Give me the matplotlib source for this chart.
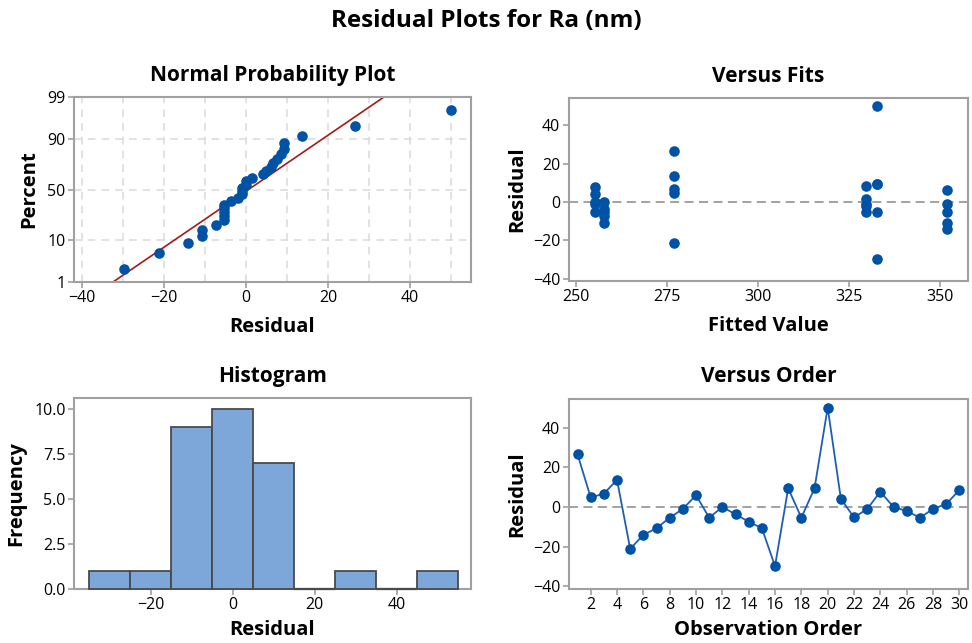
import numpy as np
import matplotlib
matplotlib.use("Agg")
import matplotlib.pyplot as plt
from statistics import NormalDist

#--- DATA ---#

# Observation order
order = list(range(1, 31))
residuals = [26.6, 4.8, 6.7, 13.7, -21.1,
             -14.1, -10.7, -5.4, -1.0, 6.0,
             -5.4, 0.0, -3.7, -7.4, -10.7,
             -29.8, 9.4, -5.4, 9.4, 50.1,
             4.2, -5.3, -1.0, 7.7, 0.0,
             -2.0, -5.4, -1.0, 1.5, 8.5]
# Fitted values, one per observation
fits = [277.0]*5 + [352.0]*5 + [257.6]*5 + [332.6]*5 + [255.1]*5 + [329.6]*5
# Probability axis ticks (percent)
pct_ticks = [1, 10, 50, 90, 99]
# Histogram bin edges
bin_edges = np.arange(-35, 56, 10)

#--- STYLE ---#

plt.rcParams['font.family'] = ['Open Sans', 'DejaVu Sans']
W, H = 972, 643
blue = "#0052A5"
line_blue = "#1F5FB0"
red = "#A31A1A"
spine_col = "#A0A0A0"
bar_edge = "#4A4A4A"
fs_tick = 11.5
fs_lab = 14.5
fs_title = 15
dot = 58

def style_axes(ax):
    for s in ax.spines.values():
        s.set_color(spine_col)
        s.set_linewidth(1.5)
    ax.tick_params(direction="out", length=4, width=1.2, color=spine_col,
                   labelsize=fs_tick, pad=2)

def px_axes(fig, left, right, top, bottom):
    return fig.add_axes([left/W, (H-bottom)/H, (right-left)/W, (bottom-top)/H])

fig = plt.figure(figsize=(W/100, H/100), dpi=100)
fig.text(0.5, 1 - 21/H, "Residual Plots for Ra (nm)", ha="center", va="center",
         fontsize=17.5, fontweight="bold")

nd = NormalDist()

#--- Normal probability plot ---#
ax1 = px_axes(fig, 74, 470.7, 97.3, 281.7)
n = len(residuals)
srt = np.sort(residuals)
zq = np.array([nd.inv_cdf((i - 0.3)/(n + 0.4)) for i in range(1, n + 1)])
mu = np.mean(residuals)
sd = np.std(residuals, ddof=1)
z_lo, z_hi = nd.inv_cdf(0.01), nd.inv_cdf(0.99)
zz = np.array([z_lo, z_hi])
ax1.plot(mu + sd*zz, zz, color=red, lw=1.2, zorder=2)
ax1.scatter(srt, zq, s=dot, color=blue, zorder=3, linewidths=0)
ax1.set_ylim(z_lo, z_hi)
ax1.set_xlim(-41.9, 54.8)
ax1.set_yticks([nd.inv_cdf(p/100) for p in pct_ticks])
ax1.set_yticklabels([str(p) for p in pct_ticks])
ax1.set_xticks([-40, -20, 0, 20, 40])
for gx in range(-40, 51, 10):
    ax1.axvline(gx, color="#DADADA", lw=1.1, ls=(0, (5, 4)), zorder=0)
for p in [10, 50, 90]:
    ax1.axhline(nd.inv_cdf(p/100), color="#DADADA", lw=1.1, ls=(0, (5, 4)), zorder=0)
style_axes(ax1)
ax1.set_title("Normal Probability Plot", fontsize=fs_title, fontweight="bold", pad=12)
ax1.set_xlabel("Residual", fontsize=fs_lab, fontweight="bold", labelpad=8)
ax1.set_ylabel("Percent", fontsize=fs_lab, fontweight="bold", labelpad=6)

#--- Versus fits ---#
ax2 = px_axes(fig, 568.7, 967.5, 98.3, 280.7)
ax2.axhline(0, color="#9A9A9A", lw=1.3, ls=(0, (5, 3)), zorder=1)
ax2.scatter(fits, residuals, s=dot, color=blue, zorder=3, linewidths=0)
ax2.set_xlim(248.0, 357.5)
ax2.set_ylim(-40.9, 53.9)
ax2.set_xticks([250, 275, 300, 325, 350])
ax2.set_yticks([-40, -20, 0, 20, 40])
style_axes(ax2)
ax2.set_title("Versus Fits", fontsize=fs_title, fontweight="bold", pad=12)
ax2.set_xlabel("Fitted Value", fontsize=fs_lab, fontweight="bold", labelpad=8)
ax2.set_ylabel("Residual", fontsize=fs_lab, fontweight="bold", labelpad=4)

#--- Histogram ---#
ax3 = px_axes(fig, 74, 470.7, 398.3, 588.7)
counts, _, _ = ax3.hist(residuals, bins=bin_edges, facecolor="#7DA7D9",
                        edgecolor=bar_edge, linewidth=1.3, zorder=3, clip_on=False)
# empty bins still get their outline drawn along the baseline
for c, l, r in zip(counts, bin_edges[:-1], bin_edges[1:]):
    if c == 0:
        ax3.hlines(0, l, r, color=bar_edge, lw=1.6, zorder=4, clip_on=False)
ax3.set_xlim(-38.7, 58.0)
ax3.set_ylim(0, 10.6)
ax3.set_xticks([-20, 0, 20, 40])
ax3.set_yticks([0, 2.5, 5.0, 7.5, 10.0])
ax3.set_yticklabels(["0.0", "2.5", "5.0", "7.5", "10.0"])
style_axes(ax3)
ax3.set_title("Histogram", fontsize=fs_title, fontweight="bold", pad=12)
ax3.set_xlabel("Residual", fontsize=fs_lab, fontweight="bold", labelpad=5)
ax3.set_ylabel("Frequency", fontsize=fs_lab, fontweight="bold", labelpad=6)

#--- Versus order ---#
ax4 = px_axes(fig, 568.7, 968.3, 398.7, 588.7)
ax4.axhline(0, color="#9A9A9A", lw=1.3, ls=(0, (5, 3)), zorder=1)
ax4.plot(order, residuals, color=line_blue, lw=1.3, zorder=2)
ax4.scatter(order, residuals, s=dot, color=blue, zorder=3, linewidths=0)
ax4.set_xlim(0.33, 30.68)
ax4.set_ylim(-41.2, 54.6)
ax4.set_xticks(range(2, 31, 2))
ax4.set_yticks([-40, -20, 0, 20, 40])
style_axes(ax4)
ax4.set_title("Versus Order", fontsize=fs_title, fontweight="bold", pad=12)
ax4.set_xlabel("Observation Order", fontsize=fs_lab, fontweight="bold", labelpad=5)
ax4.set_ylabel("Residual", fontsize=fs_lab, fontweight="bold", labelpad=4)

plt.savefig("out.png", dpi=100)
plt.close(fig)
